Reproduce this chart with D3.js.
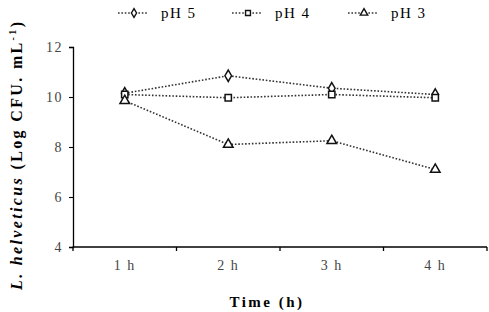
<!DOCTYPE html>
<html>
<head>
<meta charset="utf-8">
<script src="https://cdn.jsdelivr.net/npm/d3@7"></script>
<style>
body { margin: 0; background: #fff; }
svg { display: block; font-family: "Liberation Serif", "DejaVu Serif", serif; }
</style>
</head>
<body>
<svg id="chart"></svg>
<script>
const width = 489, height = 312
const margin = {top: 47, bottom: 65, left: 73, right: 2}

const times = ["1 h", "2 h", "3 h", "4 h"]
const yTicks = [4, 6, 8, 10, 12]
const ph5 = [10.15, 10.85, 10.35, 10.1]
const ph4 = [10.1, 9.97, 10.1, 9.97]
const ph3 = [9.85, 8.1, 8.25, 7.1]

const series = [
    {name: "pH 5", values: ph5, symbol: d3.symbolDiamond, size: 38},
    {name: "pH 4", values: ph4, symbol: d3.symbolSquare, size: 40},
    {name: "pH 3", values: ph3, symbol: d3.symbolTriangle, size: 40},
]

const svg = d3.select("svg#chart")
    .attr("viewBox", [0, 0, width, height])
    .attr("width", width)
    .attr("height", height)

const xScale = d3.scaleBand()
    .domain(times)
    .range([margin.left, width - margin.right])

const yScale = d3.scaleLinear()
    .domain([4, 12])
    .range([height - margin.bottom, margin.top])

// X axis: ticks at band boundaries
const xAxis = svg.append("g").classed("x-axis", true)
    .attr("transform", `translate(0, ${height - margin.bottom})`)
xAxis.append("line")
    .attr("x1", margin.left - 0.5).attr("x2", width - margin.right)
    .attr("stroke", "#000").attr("stroke-width", 1.3)
xAxis.selectAll("line.tick")
    .data(times.map(t => xScale(t)).concat([width - margin.right]))
    .enter()
    .append("line").classed("tick", true)
    .attr("x1", d => d).attr("x2", d => d)
    .attr("y1", 0).attr("y2", 4)
    .attr("stroke", "#000").attr("stroke-width", 1.3)
xAxis.selectAll("text")
    .data(times)
    .enter()
    .append("text")
    .attr("x", d => xScale(d) + xScale.bandwidth() / 2)
    .attr("y", 23)
    .attr("text-anchor", "middle")
    .attr("font-size", 14)
    .attr("letter-spacing", 1.5)
    .attr("fill", "#444")
    .text(d => d)

// Y axis
svg.append("g").classed("y-axis", true)
    .attr("transform", `translate(${margin.left}, 0)`)
    .call(d3.axisLeft(yScale).tickValues(yTicks).tickSize(4).tickFormat(d3.format("d")))
    .call(g => g.select(".domain").attr("stroke-width", 1.3))
    .call(g => g.selectAll(".tick line").attr("stroke-width", 1.1))
    .call(g => g.selectAll(".tick text")
        .attr("font-family", "Liberation Serif, serif")
        .attr("font-size", 14)
        .attr("letter-spacing", 1.5)
        .attr("fill", "#444")
        .attr("x", -10))

// Lines
const line = d3.line()
    .x((d, i) => xScale(times[i]) + xScale.bandwidth() / 2)
    .y(d => yScale(d))

svg.append("g").classed("lines", true)
    .selectAll("path")
    .data(series)
    .enter()
    .append("path")
    .attr("d", d => line(d.values))
    .attr("fill", "none")
    .attr("stroke", "#333")
    .attr("stroke-width", 1.6)
    .attr("stroke-dasharray", "1.6,1.8")

// Markers
series.forEach(s => {
    svg.append("g").classed("markers", true)
        .selectAll("path")
        .data(s.values)
        .enter()
        .append("path")
        .attr("transform", (d, i) => `translate(${xScale(times[i]) + xScale.bandwidth() / 2}, ${yScale(d)})`)
        .attr("d", d3.symbol().type(s.symbol).size(s.size))
        .attr("fill", "#fff")
        .attr("stroke", "#111")
        .attr("stroke-width", 1.5)
})

// Legend
const legendX = [118, 232, 348]
const legend = svg.append("g").classed("legend", true)
    .selectAll("g")
    .data(series)
    .enter()
    .append("g")
    .attr("transform", (d, i) => `translate(${legendX[i]}, 13)`)
legend.append("line")
    .attr("x1", 0).attr("x2", 30)
    .attr("stroke", "#333").attr("stroke-width", 1.6)
    .attr("stroke-dasharray", "1.6,1.8")
legend.append("path")
    .attr("transform", "translate(16, 0)")
    .attr("d", d => d3.symbol().type(d.symbol).size(d.size * 0.6)())
    .attr("fill", "#fff").attr("stroke", "#111").attr("stroke-width", 1.4)
legend.append("text")
    .attr("x", 43).attr("y", 5)
    .attr("font-size", 15)
    .attr("letter-spacing", 1.5)
    .text(d => d.name)

// Axis titles
svg.append("text")
    .attr("x", 267).attr("y", 307)
    .attr("text-anchor", "middle")
    .attr("font-size", 15)
    .attr("font-weight", "bold")
    .attr("letter-spacing", 2.5)
    .text("Time (h)")

const yTitle = svg.append("text")
    .attr("transform", "translate(22, 156) rotate(-90)")
    .attr("text-anchor", "middle")
    .attr("font-size", 16)
    .attr("font-weight", "bold")
    .attr("textLength", 268)
    .attr("lengthAdjust", "spacing")
yTitle.append("tspan").attr("font-style", "italic").text("L. helveticus")
yTitle.append("tspan").text(" (Log CFU. mL")
yTitle.append("tspan").attr("font-size", 10).attr("dy", -6).text("-1")
yTitle.append("tspan").attr("dy", 6).text(")")
</script>
</body>
</html>
